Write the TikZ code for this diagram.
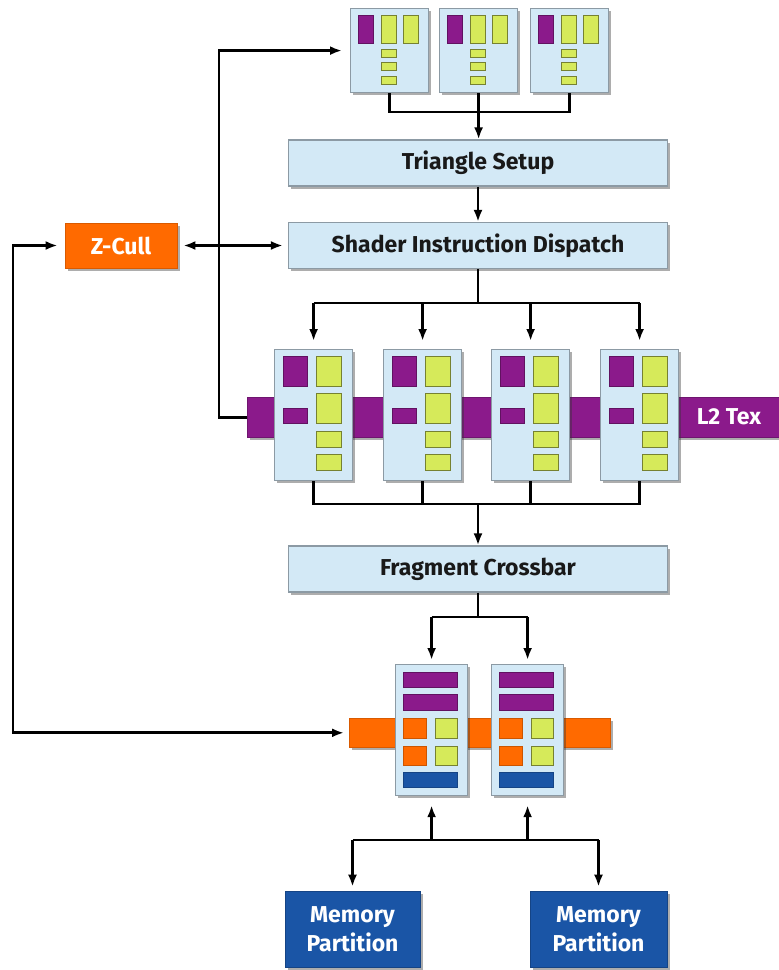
\documentclass[tikz,border=0pt]{standalone}
\usepackage{fontspec}
\setmainfont{Fira Sans}
\usetikzlibrary{shadows,arrows.meta,calc}
\definecolor{boxfill}{HTML}{D3E9F6}
\definecolor{boxline}{HTML}{8C9AA4}
\definecolor{purp}{HTML}{8B1A8B}
\definecolor{yel}{HTML}{D6EA5A}
\definecolor{orng}{HTML}{FF6A00}
\definecolor{dblue}{HTML}{1A55A6}
\begin{document}
\begin{tikzpicture}[x=1pt,y=-1pt,
  shadowed/.style={drop shadow={shadow xshift=2.5pt,shadow yshift=-2.5pt,opacity=0.4,fill=black!80}},
  labelfont/.style={font=\bfseries\fontsize{23}{29}\selectfont},
  stage/.style={shadowed,draw=boxline,line width=1.2pt,fill=boxfill,minimum width=379pt,minimum height=46pt,labelfont,text=black!90,inner sep=0pt},
  unitbox/.style={shadowed,draw=boxline,line width=1.2pt,fill=boxfill,inner sep=0pt,anchor=north west},
  pblk/.style={fill=purp,draw=purp!70!black,line width=0.5pt},
  yblk/.style={fill=yel,draw=yel!55!black,line width=0.6pt},
  oblk/.style={fill=orng,draw=orng!80!black,line width=0.5pt},
  bblk/.style={fill=dblue,draw=dblue!80!black,line width=0.5pt},
  conn/.style={line width=2.8pt,black},
  arr/.style={conn,-{Latex[length=12pt,width=9pt]}},
  darr/.style={conn,{Latex[length=12pt,width=9pt]}-{Latex[length=12pt,width=9pt]}}
]
\useasboundingbox (0,0) rectangle (779,970);
\fill[white] (0,0) rectangle (779,970);

% vertex units
\foreach \i/\xx in {1/350,2/439,3/530}{
  \begin{scope}[shift={(\xx,8)}]
    \node[unitbox,minimum width=78pt,minimum height=84pt] (vu\i) at (0,0) {};
    \filldraw[pblk] (8,7) rectangle (23,35);
    \filldraw[yblk] (31,7) rectangle (46,35);
    \filldraw[yblk] (53,7) rectangle (68,35);
    \filldraw[yblk] (31,41) rectangle (46,49);
    \filldraw[yblk] (31,54) rectangle (46,62);
    \filldraw[yblk] (31,68) rectangle (46,76);
  \end{scope}
}

% stages
\node[stage] (tri) at (478,163) {Triangle Setup};
\node[stage] (sid) at (478,245.5) {Shader Instruction Dispatch};
\node[stage] (fcb) at (478,569) {Fragment Crossbar};

% Z-Cull
\node[shadowed,fill=orng,draw=orng!85!black,line width=0.8pt,minimum width=112pt,minimum height=45pt,labelfont,text=white,inner sep=0pt] (zc) at (121,245.5) {Z-Cull};

% L2 Tex bar
\node[shadowed,fill=purp,draw=purp!80!black,line width=0.6pt,minimum width=532pt,minimum height=40pt,inner sep=0pt,anchor=north west] (l2bar) at (247,397) {};
\node[labelfont,text=white,inner sep=0pt] (l2txt) at (729,417) {L2 Tex};

% fragment units
\foreach \i/\xx in {1/274,2/383,3/491,4/600}{
  \begin{scope}[shift={(\xx,349)}]
    \node[unitbox,minimum width=78pt,minimum height=131pt] (fu\i) at (0,0) {};
    \filldraw[pblk] (9,7) rectangle (33,37);
    \filldraw[yblk] (42,7) rectangle (67,37);
    \filldraw[yblk] (42,44) rectangle (67,74);
    \filldraw[pblk] (9,59) rectangle (33,74);
    \filldraw[yblk] (42,82) rectangle (67,98);
    \filldraw[yblk] (42,105) rectangle (67,121);
  \end{scope}
}

% ROP bar
\node[shadowed,fill=orng,draw=orng!85!black,line width=0.6pt,minimum width=261pt,minimum height=29pt,inner sep=0pt,anchor=north west] (ropbar) at (349,718) {};

% ROP units
\foreach \i/\xx in {1/395,2/491}{
  \begin{scope}[shift={(\xx,664)}]
    \node[unitbox,minimum width=72pt,minimum height=131pt] (rop\i) at (0,0) {};
    \filldraw[pblk] (8,8) rectangle (62,23);
    \filldraw[pblk] (8,30) rectangle (62,46);
    \filldraw[oblk] (8,54) rectangle (31,74);
    \filldraw[oblk] (8,82) rectangle (31,101);
    \filldraw[yblk] (40,54) rectangle (62,74);
    \filldraw[yblk] (40,82) rectangle (62,101);
    \filldraw[bblk] (8,108) rectangle (62,123);
  \end{scope}
}

% memory partitions
\node[shadowed,fill=dblue,draw=dblue!80!black,line width=0.6pt,minimum width=135pt,minimum height=76pt,labelfont,text=white,align=center,inner sep=0pt] (mp1) at (352.5,929) {Memory\\Partition};
\node[shadowed,fill=dblue,draw=dblue!80!black,line width=0.6pt,minimum width=137pt,minimum height=76pt,labelfont,text=white,align=center,inner sep=0pt] (mp2) at (598.5,929) {Memory\\Partition};

% bus coordinates
\coordinate (vbus) at (0,112);
\coordinate (fbus) at (0,303);
\coordinate (cbus) at (0,504);
\coordinate (rbus) at (0,617);
\coordinate (mbus) at (0,840);
\coordinate (zx) at (219,0);
\coordinate (lx) at (13,0);

% connectors: vertex units -> triangle setup
\draw[conn] (vu1.south) -- (vu1.south |- vbus) -- (vu3.south |- vbus) -- (vu3.south);
\draw[arr] (vu2.south) -- (vu2.south |- tri.north);
\draw[arr] (tri.south) -- (sid.north);

% shader dispatch -> fragment units
\draw[conn] (sid.south) -- (sid.south |- fbus);
\draw[conn] (fu1.north |- fbus) -- (fu4.north |- fbus);
\foreach \i in {1,2,3,4}{
  \draw[arr,shorten >=8pt] (fu\i.north |- fbus) -- (fu\i.north);
}

% fragment units -> crossbar
\draw[conn] (fu1.south) -- (fu1.south |- cbus) -- (fu4.south |- cbus) -- (fu4.south);
\draw[conn] (fu2.south) -- (fu2.south |- cbus);
\draw[conn] (fu3.south) -- (fu3.south |- cbus);
\draw[arr] (fcb.north |- cbus) -- (fcb.north);

% crossbar -> ROPs
\draw[conn] (fcb.south) -- (fcb.south |- rbus);
\draw[conn] (rop1.north |- rbus) -- (rop2.north |- rbus);
\draw[arr,shorten >=4pt] (rop1.north |- rbus) -- (rop1.north);
\draw[arr,shorten >=4pt] (rop2.north |- rbus) -- (rop2.north);

% ROPs <-> memory
\draw[conn] (mp1.north |- mbus) -- (mp2.north |- mbus);
\draw[arr,shorten >=9pt] (rop1.south |- mbus) -- (rop1.south);
\draw[arr,shorten >=9pt] (rop2.south |- mbus) -- (rop2.south);
\draw[arr,shorten >=4pt] (mp1.north |- mbus) -- (mp1.north);
\draw[arr,shorten >=4pt] (mp2.north |- mbus) -- (mp2.north);

% L2 Tex -> vertex units
\draw[arr,shorten >=8pt] (l2bar.west) -| (zx |- vu1.west) -- (vu1.west);
% Z-Cull <-> shader dispatch
\draw[darr,shorten <=6pt,shorten >=5pt] (zc.east) -- (sid.west);
% Z-Cull <-> ROP bar
\draw[darr,shorten <=7pt,shorten >=5pt] (zc.west) -- (lx |- zc.west) |- (ropbar.west);
\end{tikzpicture}
\end{document}
